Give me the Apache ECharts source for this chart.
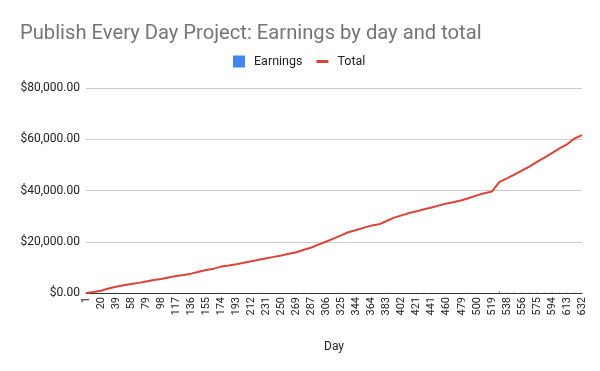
<!DOCTYPE html>
<html>
<head>
<meta charset="utf-8">
<script src="https://cdn.jsdelivr.net/npm/echarts@6/dist/echarts.min.js"></script>
<style>html,body{margin:0;padding:0;background:#fff}#c{width:600px;height:371px}</style>
</head>
<body>
<div id="c"></div>
<script>
// Sampled days (every other entry is a labelled tick)
const days = [1,10,20,29,39,48,58,68,79,88,98,107,117,126,136,145,155,164,174,183,193,202,212,221,231,240,250,259,269,278,287,296,306,315,325,334,344,354,364,373,383,392,402,411,421,431,441,450,460,469,479,489,500,509,519,528,538,547,556,565,575,584,594,603,613,622,632];
// Cumulative total earnings ($)
const totalValues = [0,350,900,1750,2400,3000,3500,3950,4450,5050,5500,6050,6600,7050,7550,8300,9000,9500,10300,10700,11200,11800,12350,12950,13600,14100,14650,15300,15900,16850,17750,19000,20100,21300,22600,23800,24600,25500,26300,26800,28100,29400,30300,31200,31900,32700,33400,34200,34900,35500,36200,37100,38100,38900,39600,43300,44700,46200,47800,49300,51200,52800,54600,56400,58000,60300,61600];
// Daily earnings ($)
const earningsValues = [10,37,58,89,68,63,53,47,53,63,47,58,58,47,53,79,74,53,84,42,53,63,58,63,68,53,58,68,63,100,95,132,116,126,137,126,84,95,84,53,137,137,95,95,74,84,74,84,74,63,74,95,105,84,74,720,147,158,168,158,200,168,189,189,168,242,137];
const yTicks = [0,20000,40000,60000,80000];

const chart = echarts.init(document.getElementById('c'), null, {renderer:'canvas'});
const fmt = v => '$' + v.toFixed(2).replace(/\B(?=(\d{3})+(?!\d))/g, ',');
chart.setOption({
  animation:false,
  backgroundColor:'#fff',
  textStyle:{fontFamily:'Roboto, Arial, sans-serif'},
  title:{
    text:'Publish Every Day Project: Earnings by day and total',
    left:15, top:19,
    textStyle:{fontFamily:'Roboto, Arial, sans-serif', fontSize:20.2, fontWeight:'normal', color:'#757575'}
  },
  legend:{
    left:228, top:50,
    itemWidth:12, itemHeight:12, itemGap:14,
    textStyle:{fontSize:12.5, color:'#222', padding:[0,0,0,4]},
    data:[
      {name:'Earnings', icon:'rect'},
      {name:'Total', icon:'path://M0,0h12v3h-12z'}
    ]
  },
  grid:{left:86, right:18, top:88, bottom:78, containLabel:false},
  xAxis:{
    type:'category',
    data:days,
    boundaryGap:false,
    name:'Day',
    nameLocation:'middle',
    nameGap:48,
    nameTextStyle:{fontSize:12, color:'#222'},
    axisLine:{lineStyle:{color:'#333', width:1}},
    axisTick:{show:false},
    axisLabel:{interval:1, rotate:90, fontSize:11, color:'#222', margin:4},
    splitLine:{show:false}
  },
  yAxis:{
    type:'value',
    min:yTicks[0], max:yTicks[yTicks.length-1], interval:20000,
    axisLine:{show:false},
    axisTick:{show:false},
    axisLabel:{formatter:fmt, fontSize:12, color:'#222', margin:6},
    splitLine:{lineStyle:{color:'#cccccc', width:1}}
  },
  series:[
    {name:'Earnings', type:'bar', data:earningsValues, barWidth:1, itemStyle:{color:'#4285F4'}, z:1},
    {name:'Total', type:'line', data:totalValues, showSymbol:false, symbol:'none',
     lineStyle:{color:'#DB4437', width:2}, itemStyle:{color:'#DB4437'}, z:3}
  ]
});
</script>
</body>
</html>
